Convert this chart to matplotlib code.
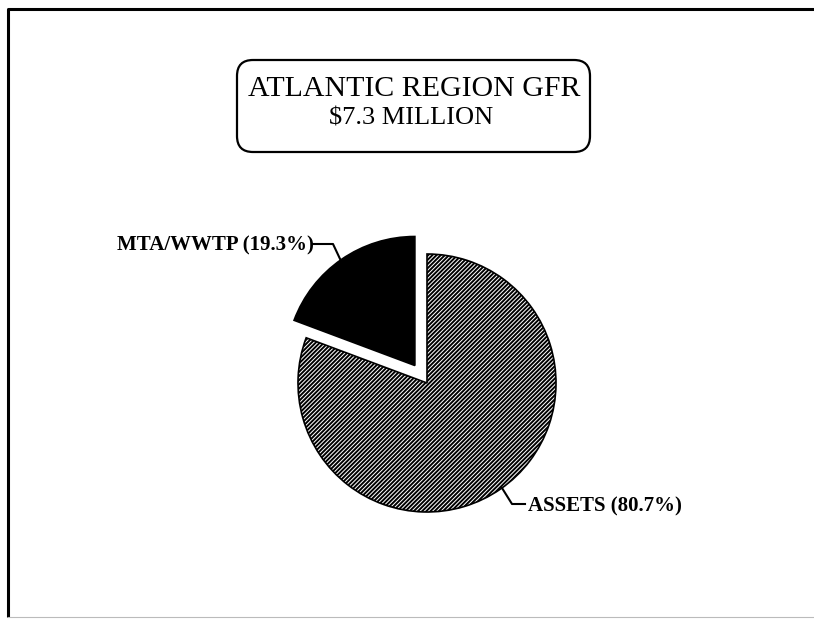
import matplotlib
matplotlib.use("Agg")
import matplotlib.pyplot as plt
from matplotlib.patches import FancyBboxPatch

categories = ["MTA/WWTP", "ASSETS"]
shares = [19.3, 80.7]
title_lines = ["ATLANTIC REGION GFR", "$7.3 MILLION"]

W, H = 814, 619
plt.rcParams['hatch.linewidth'] = 1.4
fig = plt.figure(figsize=(W / 100, H / 100), dpi=100)
ax = fig.add_axes([0, 0, 1, 1])

def Y(yp):
    return H - yp

cx, cy, r = 427, Y(383), 129
wedges, _ = ax.pie(shares, startangle=90, counterclock=True, center=(cx, cy), radius=r,
                   explode=[0.165 * r, 0], colors=['black', 'white'],
                   wedgeprops=dict(edgecolor='black', linewidth=1.2), frame=True)
wedges[1].set_hatch('////////')
ax.set_xlim(0, W)
ax.set_ylim(0, H)
ax.set_aspect('equal')
ax.axis('off')

# frame
ax.plot([8, 8, W], [Y(617), Y(9), Y(9)], color='black', lw=2.2, solid_capstyle='butt')
ax.plot([8, W], [Y(617), Y(617)], color='#bbbbbb', lw=0.8)

font = 'Liberation Serif'
labels = [f"{c} ({v:.1f}%)" for c, v in zip(categories, shares)]
ax.text(117, Y(245), labels[0], ha='left', va='center', fontsize=15, fontweight='bold', family=font)
ax.plot([313, 333, 341], [Y(244), Y(244), Y(261)], color='black', lw=1.5)
ax.text(528, Y(506), labels[1], ha='left', va='center', fontsize=15, fontweight='bold', family=font)
ax.plot([502, 512, 525], [Y(488), Y(504), Y(504)], color='black', lw=1.5)

box = FancyBboxPatch((237, Y(152)), 353, 92, boxstyle='round,pad=0,rounding_size=16',
                     fc='white', ec='black', lw=1.6, zorder=2)
ax.add_patch(box)
ax.text(414, Y(89), title_lines[0], ha='center', va='center', fontsize=21.5, family=font, zorder=3)
ax.text(411, Y(119), title_lines[1], ha='center', va='center', fontsize=19, family=font, zorder=3)

fig.savefig('out.png', dpi=100)
